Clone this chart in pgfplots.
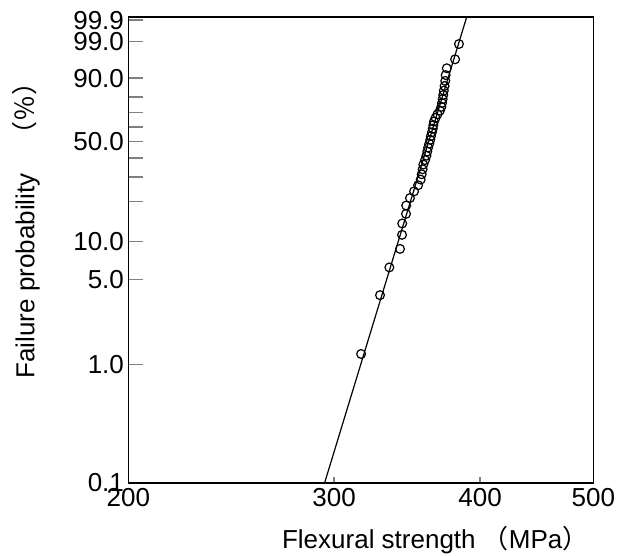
\documentclass[border=0pt]{standalone}
\usepackage{pgfplots}
\pgfplotsset{compat=1.18}
\usepackage{pgfplotstable}
\usepackage{fontspec}
\setmainfont{Liberation Sans}
\newfontfamily\cjk{Noto Sans CJK SC}

% strength (MPa) vs failure probability (%), 40 specimens
\pgfplotstableread{
strength F
316.4 1.25
328.4 3.75
334.5 6.25
341.6 8.75
343.0 11.25
343.1 13.75
345.7 16.25
345.8 18.75
348.4 21.25
351.2 23.75
354.0 26.25
355.8 28.75
356.5 31.25
357.2 33.75
357.7 36.25
358.9 38.75
359.9 41.25
360.5 43.75
361.1 46.25
361.9 48.75
362.6 51.25
363.1 53.75
363.8 56.25
364.4 58.75
364.8 61.25
365.3 63.75
366.4 66.25
367.8 68.75
369.6 71.25
370.6 73.75
371.1 76.25
371.6 78.75
372.0 81.25
372.4 83.75
373.0 86.25
373.5 88.75
373.8 91.25
374.6 93.75
380.8 96.25
383.7 98.75
}\weibull

\begin{document}
\begin{tikzpicture}
\begin{axis}[
  name=ax,
  scale only axis,
  width=232.5pt, height=233pt,
  xmode=log, xmin=200, xmax=500,
  xtick={200,300,400,500}, xticklabels={200,300,400,500},
  xminorticks=false,
  y coord trafo/.code={\pgfmathparse{ln(-ln(1-#1/100))}},
  y coord inv trafo/.code={\pgfmathparse{100*(1-exp(-exp(#1)))}},
  ymin=0.0954, ymax=99.934,
  ytick={0.1,1,5,10,20,30,40,50,60,70,80,90,99,99.9},
  yticklabels={0.1,1.0,5.0,10.0,,,,50.0,,,,90.0,99.0,99.9},
  tick pos=left, tick align=inside,
  axis line style={line width=0.8pt},
  ytick style={line width=0.8pt, /pgfplots/major tick length=7.5pt},
  xtick style={line width=0.8pt, /pgfplots/major tick length=3pt},
  font=\fontsize{13}{15}\selectfont,
  /pgf/number format/assume math mode=true,
  yticklabel style={xshift=-1.5pt, inner sep=0.5pt},
  xticklabel style={yshift=-2pt, inner sep=0.5pt},
  xlabel={Flexural strength {\cjk（}MPa{\cjk）}},
  ylabel={Failure probability\quad{\cjk（％）}},
  xlabel style={at={(axis description cs:0.66,0)}, anchor=base, yshift=-33pt},
  ylabel style={at={(axis description cs:-0.22,0.556)}, anchor=center},
]
\addplot[black, line width=0.6pt] coordinates {(292,0.0819) (391,99.9719)};
\addplot[only marks, mark=o, mark size=2.2pt, mark options={fill=white, line width=0.6pt}]
  table[x=strength, y=F] {\weibull};
\end{axis}
\pgfresetboundingbox
\path[use as bounding box] ([xshift=-64.15pt,yshift=-36.5pt]ax.south west) rectangle ([xshift=13.85pt,yshift=8.5pt]ax.north east);
\end{tikzpicture}
\end{document}
